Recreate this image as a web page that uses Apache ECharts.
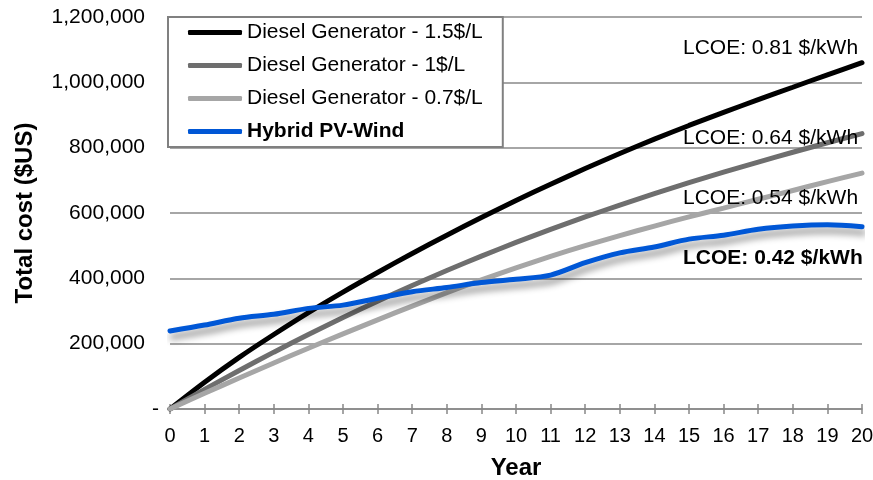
<!DOCTYPE html>
<html>
<head>
<meta charset="utf-8">
<script src="https://cdn.jsdelivr.net/npm/echarts@6/dist/echarts.min.js"></script>
<style>
  html, body { margin: 0; padding: 0; background: #ffffff; }
  #chart { width: 873px; height: 480px; }
</style>
</head>
<body>
<div id="chart"></div>
<script>
// Project years (x axis categories)
const years = ['0','1','2','3','4','5','6','7','8','9','10','11','12','13','14','15','16','17','18','19','20'];

// Cumulative total cost ($US) per year
const diesel15 = [0, 82000, 158000, 228000, 295000, 358000, 418000, 476000, 532000, 586000, 638000,
                  688000, 736000, 782000, 826000, 868000, 908000, 947000, 985000, 1023000, 1060000];
const diesel10 = [0, 60000, 118000, 174000, 228000, 280000, 330000, 378000, 424000, 468000, 510000,
                  550000, 588000, 624000, 659000, 693000, 725000, 756000, 786000, 815000, 843000];
const diesel07 = [0, 48000, 95000, 141000, 186000, 230000, 273000, 315000, 356000, 395000, 432000,
                  467000, 500000, 531000, 560000, 588000, 615000, 642000, 669000, 696000, 722000];
const hybrid   = [239000, 257000, 278000, 290000, 308000, 318000, 339000, 359000, 372000, 387000, 397000,
                  410000, 448000, 478000, 496000, 520000, 532000, 550000, 560000, 564000, 558000];

// Series names and levelised cost annotations
const seriesNames = ['Diesel Generator - 1.5$/L', 'Diesel Generator - 1$/L', 'Diesel Generator - 0.7$/L', 'Hybrid PV-Wind'];
const lcoeLabels = ['LCOE: 0.81 $/kWh', 'LCOE: 0.64 $/kWh', 'LCOE: 0.54 $/kWh', 'LCOE: 0.42 $/kWh'];

// Y axis tick range
const yMin = 0, yMax = 1200000, yStep = 200000;

const FONT = '"Liberation Sans", Arial, sans-serif';
const colors = ['#000000', '#6e6e6e', '#a6a6a6', '#0057d6'];

const chart = echarts.init(document.getElementById('chart'), null, { renderer: 'canvas' });

function lineSeries(name, data, color, extra) {
  return Object.assign({
    name: name,
    type: 'line',
    data: data,
    smooth: 0.3,
    symbol: 'none',
    lineStyle: { color: color, width: 5, cap: 'round' },
    itemStyle: { color: color },
    z: 3
  }, extra || {});
}

const option = {
  animation: false,
  backgroundColor: '#ffffff',
  textStyle: { fontFamily: FONT },
  grid: { left: 170, right: 11, top: 17, bottom: 71, containLabel: false, outerBoundsMode: 'none' },
  legend: {
    orient: 'vertical',
    left: 168,
    top: 17,
    padding: [5, 20, 5, 20],
    itemGap: 12,
    itemWidth: 54,
    itemHeight: 5,
    icon: 'roundRect',
    backgroundColor: '#ffffff',
    borderColor: '#808080',
    borderWidth: 2,
    textStyle: { fontFamily: FONT, fontSize: 21, lineHeight: 21, color: '#000000' },
    data: [
      { name: seriesNames[0] },
      { name: seriesNames[1] },
      { name: seriesNames[2] },
      { name: seriesNames[3], textStyle: { fontWeight: 'bold' } }
    ]
  },
  xAxis: [
    {
      type: 'category',
      position: 'bottom',
      data: years,
      boundaryGap: false,
      name: 'Year',
      nameLocation: 'middle',
      nameGap: 47,
      nameTextStyle: { fontFamily: FONT, fontSize: 24, fontWeight: 'bold', color: '#000000' },
      axisLine: { show: true, lineStyle: { color: '#888888', width: 1.5 } },
      axisTick: { show: true, length: 5, lineStyle: { color: '#888888', width: 1.5 } },
      axisLabel: { fontFamily: FONT, fontSize: 20, color: '#000000', margin: 17, interval: 0 },
      splitLine: { show: false }
    },
    {
      // inner half of the crossing tick marks
      type: 'category',
      position: 'bottom',
      data: years,
      boundaryGap: false,
      axisLine: { show: false },
      axisTick: { show: true, inside: true, length: 5, interval: 0, lineStyle: { color: '#888888', width: 1.5 } },
      axisLabel: { show: false },
      splitLine: { show: false }
    }
  ],
  yAxis: {
    type: 'value',
    min: yMin,
    max: yMax,
    interval: yStep,
    name: 'Total cost ($US)',
    nameLocation: 'middle',
    nameGap: 133,
    nameTextStyle: { fontFamily: FONT, fontSize: 24, fontWeight: 'bold', color: '#000000' },
    axisLine: { show: false },
    axisTick: { show: false },
    axisLabel: {
      fontFamily: FONT,
      fontSize: 21,
      color: '#000000',
      margin: 11,
      formatter: function (v) {
        if (v === 0) return '{z|-}';
        return '{n|' + v.toLocaleString('en-US') + '}';
      },
      rich: {
        n: { fontFamily: FONT, fontSize: 21, color: '#000000', padding: [0, 14, 0, 0] },
        z: { fontFamily: FONT, fontSize: 21, color: '#000000' }
      }
    },
    splitLine: { show: true, lineStyle: { color: '#888888', width: 1.5 } }
  },
  series: [
    lineSeries(seriesNames[0], diesel15, colors[0]),
    lineSeries(seriesNames[1], diesel10, colors[1]),
    lineSeries(seriesNames[2], diesel07, colors[2]),
    lineSeries(seriesNames[3], hybrid, colors[3], {
      z: 4,
      lineStyle: {
        color: colors[3], width: 5, cap: 'round',
        shadowColor: 'rgba(0,0,0,0.45)', shadowBlur: 7, shadowOffsetX: 2, shadowOffsetY: 6
      }
    })
  ],
  graphic: [
    { type: 'text', left: 683, top: 38, z: 10, style: { text: lcoeLabels[0], fontFamily: FONT, fontSize: 21, fill: '#000000' } },
    { type: 'text', left: 683, top: 128, z: 10, style: { text: lcoeLabels[1], fontFamily: FONT, fontSize: 21, fill: '#000000' } },
    { type: 'text', left: 683, top: 188, z: 10, style: { text: lcoeLabels[2], fontFamily: FONT, fontSize: 21, fill: '#000000' } },
    { type: 'text', left: 683, top: 248, z: 10, style: { text: lcoeLabels[3], fontFamily: FONT, fontSize: 21, fontWeight: 'bold', fill: '#000000' } }
  ]
};

chart.setOption(option);
</script>
</body>
</html>
